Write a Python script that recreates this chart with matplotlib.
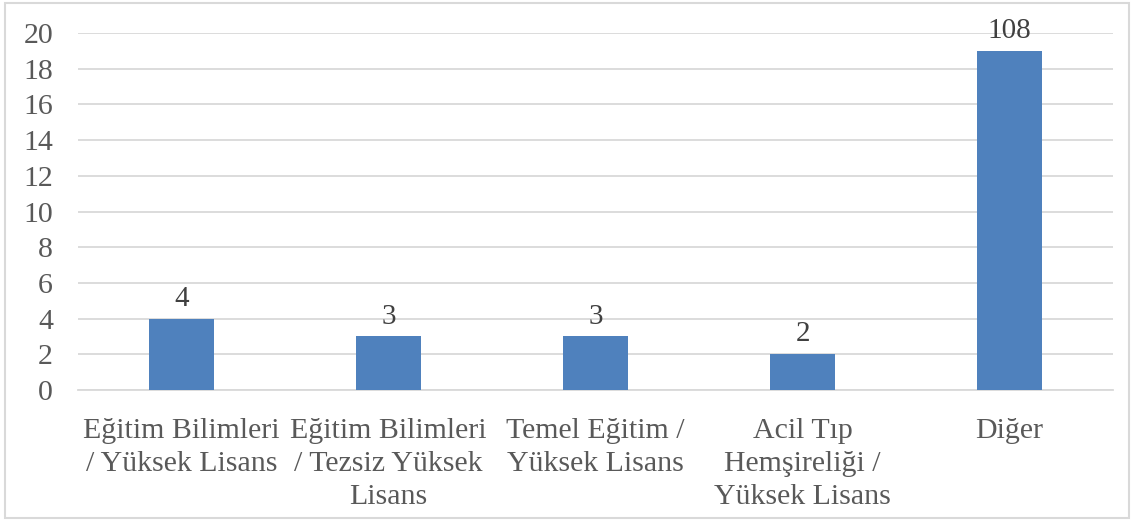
import matplotlib.pyplot as plt
from matplotlib.patches import Rectangle

categories = [
	"Eğitim Bilimleri\n/ Yüksek Lisans",
	"Eğitim Bilimleri\n/ Tezsiz Yüksek\nLisans",
	"Temel Eğitim /\nYüksek Lisans",
	"Acil Tıp\nHemşireliği /\nYüksek Lisans",
	"Diğer",
]
bar_heights = [4, 3, 3, 2, 19]
bar_labels = ["4", "3", "3", "2", "108"]
y_ticks = [0, 2, 4, 6, 8, 10, 12, 14, 16, 18, 20]

plt.rcParams["font.family"] = ["Liberation Serif", "DejaVu Serif"]
text_color = "#595959"

fig = plt.figure(figsize=(11.34, 5.2), dpi=100)
ax = fig.add_axes([0.0688, 0.25, 0.9127, 0.6865])

x = list(range(len(categories)))
bars = ax.bar(x, bar_heights, width=0.31, color="#4f81bd", zorder=3)

for bar, label in zip(bars, bar_labels):
	ax.annotate(label, (bar.get_x() + bar.get_width() / 2, bar.get_height()),
		xytext=(0, 5), textcoords="offset points", ha="center", va="bottom",
		fontsize=21, color="#404040", zorder=4)

ax.set_xlim(-0.5, len(categories) - 0.5)
ax.set_ylim(0, 20)
ax.set_yticks(y_ticks)
ax.set_xticks(x)
ax.set_xticklabels(categories, fontsize=21.5, color=text_color, linespacing=1.35)
ax.tick_params(axis="y", labelsize=21.5, labelcolor=text_color, length=0, pad=18)
ax.tick_params(axis="x", length=0, pad=20)
ax.grid(axis="y", color="#d9d9d9", linewidth=1.3, zorder=0)
for side in ["top", "right", "left"]:
	ax.spines[side].set_visible(False)
ax.spines["bottom"].set_color("#d9d9d9")
ax.spines["bottom"].set_linewidth(1.3)

fig.patches.append(Rectangle((0.004, 0.004), 0.992, 0.99, transform=fig.transFigure,
	fill=False, edgecolor="#d9d9d9", linewidth=1.5))

fig.savefig("out.png", dpi=100)
